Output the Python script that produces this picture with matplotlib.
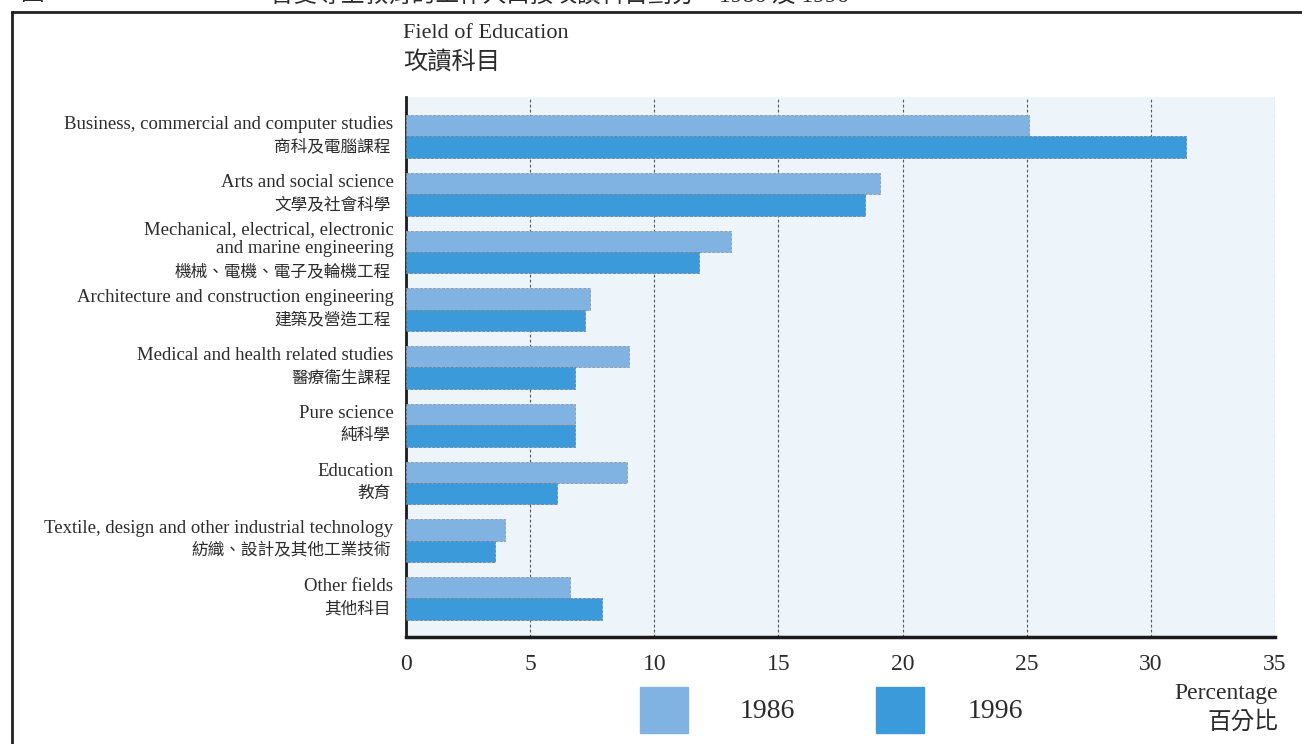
import numpy as np
import matplotlib.pyplot as plt
from matplotlib.patches import Rectangle
from matplotlib.lines import Line2D

plt.rcParams['font.family'] = ['Liberation Serif', 'Noto Sans CJK TC']

fields_en = [
    'Business, commercial and computer studies',
    'Arts and social science',
    'Mechanical, electrical, electronic\nand marine engineering',
    'Architecture and construction engineering',
    'Medical and health related studies',
    'Pure science',
    'Education',
    'Textile, design and other industrial technology',
    'Other fields',
]
fields_zh = [
    '商科及電腦課程',
    '文學及社會科學',
    '機械、電機、電子及輪機工程',
    '建築及營造工程',
    '醫療衞生課程',
    '純科學',
    '教育',
    '紡織、設計及其他工業技術',
    '其他科目',
]
share_1986 = [25.1, 19.1, 13.1, 7.4, 9.0, 6.8, 8.9, 4.0, 6.6]
share_1996 = [31.4, 18.5, 11.8, 7.2, 6.8, 6.8, 6.1, 3.6, 7.9]
years = ['1986', '1996']
x_ticks = [0, 5, 10, 15, 20, 25, 30, 35]

c86 = '#80b3e1'
c96 = '#3b9bda'
ink = '#2b2b2b'

W, H = 1302, 744
fig = plt.figure(figsize=(W / 100, H / 100), dpi=100)


def fx(px):
    return px / W


def fy(py):
    return 1 - py / H


ax = fig.add_axes([fx(406), fy(637), fx(1275) - fx(406), fy(97) - fy(637)])
ax.set_facecolor('#edf4fa')

y = np.arange(len(fields_en))
h = 0.372
ax.barh(y - h / 2, share_1986, height=h, color=c86, edgecolor='#8a98a6',
        linewidth=0.6, linestyle='--', zorder=3)
ax.barh(y + h / 2, share_1996, height=h, color=c96, edgecolor='#6f8296',
        linewidth=0.6, linestyle='--', zorder=3)

ax.set_xlim(0, 35)
ax.set_ylim(8.667, -0.684)
ax.set_xticks(x_ticks)
ax.set_yticks([])
ax.xaxis.grid(True, linestyle=(0, (2.5, 2)), color='#555555', lw=0.8)
ax.set_axisbelow(True)
ax.tick_params(axis='x', length=0, pad=12, labelsize=17, labelcolor=ink)

for s in ['top', 'right']:
    ax.spines[s].set_visible(False)
ax.spines['left'].set_linewidth(2)
ax.spines['bottom'].set_linewidth(2.5)
ax.spines['left'].set_color('#1a1a1a')
ax.spines['bottom'].set_color('#1a1a1a')

# category labels: English line(s) above, Chinese below
for i, (en, zh) in enumerate(zip(fields_en, fields_zh)):
    if '\n' in en:
        dy_en, dy_zh = 9.5, -14.4
    else:
        dy_en, dy_zh = 8.6, -7.9
    ax.annotate(en, xy=(0, i), xytext=(-9, dy_en), textcoords='offset points',
                ha='right', va='center', fontsize=13.5, color=ink,
                linespacing=1.15, annotation_clip=False)
    ax.annotate(zh, xy=(0, i), xytext=(-11, dy_zh), textcoords='offset points',
                ha='right', va='center', fontsize=12, color=ink,
                annotation_clip=False)

fig.text(fx(403), fy(33), 'Field of Education', fontsize=16, color=ink,
         ha='left', va='center')
fig.text(fx(403), fy(62), '攻讀科目', fontsize=17.5, color=ink,
         ha='left', va='center')

fig.text(fx(1278), fy(693), 'Percentage', fontsize=17, color=ink,
         ha='right', va='center')
fig.text(fx(1278), fy(722), '百分比', fontsize=17, color=ink,
         ha='right', va='center')

# legend swatches
for (x0, col, lab, tx) in [(640, c86, years[0], 740), (876, c96, years[1], 968)]:
    fig.add_artist(Rectangle((fx(x0), fy(733)), fx(48), 46 / H, color=col,
                             transform=fig.transFigure))
    fig.text(fx(tx), fy(711), lab, fontsize=20, color=ink, ha='left', va='center')

# page frame and caption running off the top edge
fig.add_artist(Line2D([fx(12), fx(12)], [fy(12), 0], color='#222222', lw=2,
                      transform=fig.transFigure))
fig.add_artist(Line2D([fx(12), 1], [fy(12), fy(12)], color='#222222', lw=2,
                      transform=fig.transFigure))
fig.text(fx(20), fy(-5), '圖', fontsize=17, color=ink, ha='left', va='center')
fig.text(fx(270), fy(-5), '曾受專上教育的工作人口按攻讀科目劃分，1986 及 1996',
         fontsize=17, color=ink, ha='left', va='center')

fig.savefig('out.png', dpi=100)
